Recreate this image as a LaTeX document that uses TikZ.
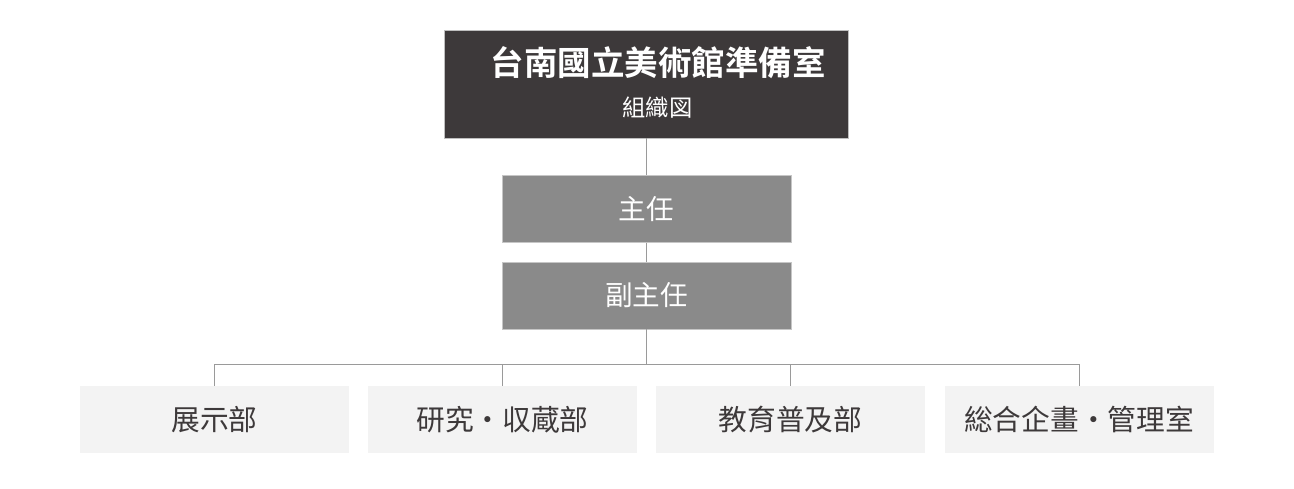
\documentclass[tikz,border=0pt]{standalone}
\usepackage{fontspec}
\newfontfamily\cjk[BoldFont={Noto Sans CJK TC Bold}]{Noto Sans CJK TC}
\usepackage{tikz}
\definecolor{headgray}{HTML}{3D393A}
\definecolor{midgray}{HTML}{8A8A8A}
\definecolor{lowgray}{HTML}{F3F3F3}
\definecolor{linegray}{HTML}{9A9A9A}

\begin{document}
\begin{tikzpicture}[x=1pt,y=-1pt]
      \useasboundingbox (0,0) rectangle (1294,489);

      \node[fill=headgray,draw=gray!50,line width=0.6pt,minimum width=404pt,minimum height=108pt,inner sep=0pt] (head) at (646.5,84) {};
      \node[text=white,font=\cjk\bfseries\fontsize{33.5}{37}\selectfont,inner sep=0pt] (title) at (658,63) {台南國立美術館準備室};
      \node[text=white,font=\cjk\fontsize{23.3}{26}\selectfont,inner sep=0pt] (subtitle) at (657.5,108) {組織図};

      \begin{scope}[every node/.style={fill=midgray,draw=gray!45,line width=0.6pt,text=white,
          minimum width=289pt,minimum height=67pt,inner sep=0pt,font=\cjk\fontsize{27.6}{30}\selectfont}]
        \node (chief) at (646.5,209) {主任};
        \node (deputy) at (646.5,295.5) {副主任};
      \end{scope}

      \begin{scope}[every node/.style={fill=lowgray,text=headgray,
          minimum width=269pt,minimum height=67pt,inner sep=0pt,font=\cjk\fontsize{28.7}{31}\selectfont}]
        \node (exhib) at (214.5,419.5) {展示部};
        \node (research) at (502.5,419.5) {研究・収蔵部};
        \node (edu) at (790.5,419.5) {教育普及部};
        \node (admin) at (1079,419.5) {総合企畫・管理室};
      \end{scope}

      \coordinate (fork) at (646.5,364.5);

      \begin{scope}[every path/.style={draw=linegray,line width=1pt}]
        \path (head) -- (chief);
        \path (chief) -- (deputy);
        \path (deputy) -- (fork);
        \path (exhib.north) |- (fork);
        \path (admin.north) |- (fork);
        \path (research.north) -- (research.north |- fork);
        \path (edu.north) -- (edu.north |- fork);
      \end{scope}
    \end{tikzpicture}
\end{document}
